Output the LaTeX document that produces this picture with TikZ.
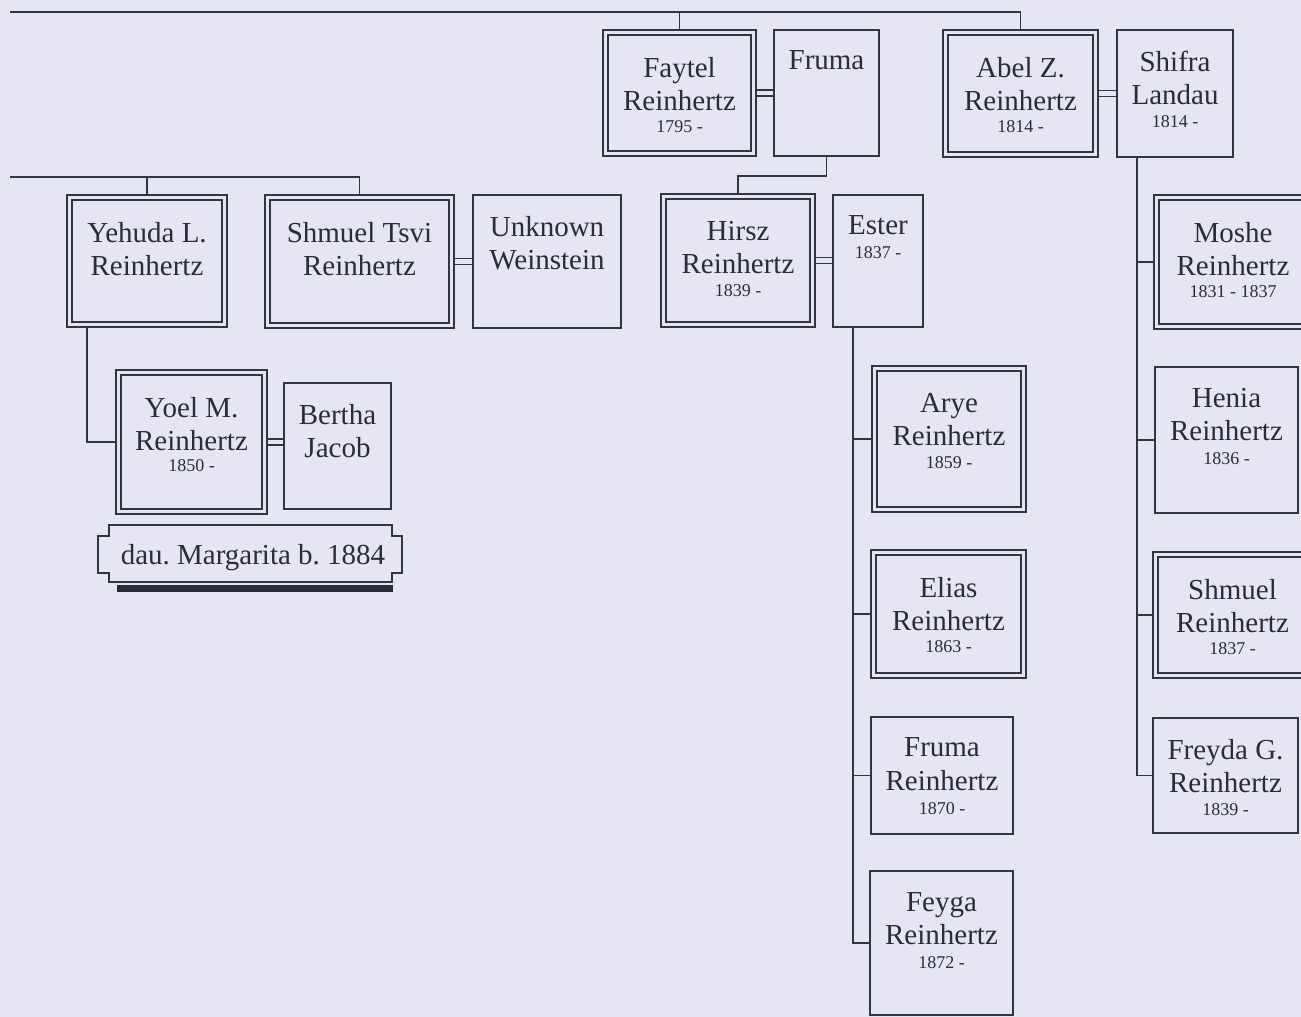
\documentclass[tikz,border=0pt]{standalone}
\usepackage{fontspec}
\setmainfont{Liberation Serif}
\usetikzlibrary{calc}
\pgfdeclarelayer{bg}
\pgfdeclarelayer{lines}
\pgfsetlayers{bg,lines,main}
\definecolor{bgc}{RGB}{229,229,245}
\definecolor{lc}{RGB}{50,54,68}
\definecolor{txt}{RGB}{42,45,56}
\tikzset{
  sbox/.style={draw=lc, line width=1.6pt, fill=bgc, rectangle, inner sep=0pt, outer sep=0pt},
  dbox/.style={draw=lc, line width=1.3pt, double=bgc, double distance=3.7pt, fill=bgc, rectangle, inner sep=0pt, outer sep=0pt},
  conn/.style={draw=lc, line width=1.6pt},
  marr/.style={draw=lc, line width=1.4pt, double=bgc, double distance=4.4pt},
  nametext/.style={font=\fontsize{29}{33.5}\selectfont\frenchspacing, align=center, inner sep=0pt, text=txt},
  datetext/.style={font=\fontsize{18}{20}\selectfont, inner sep=0pt, text=txt},
}
% #1 id, #2 x1, #3 y1, #4 x2, #5 y2, #6 names, #7 date, #8 date baseline offset
\newcommand\sperson[8]{%
  \node[sbox, minimum width={#4-#2}, minimum height={#5-#3}] (#1) at ({(#2+#4)/2},{(#3+#5)/2}) {};
  \node[nametext, anchor=north] (#1-n) at ({(#2+#4)/2},{#3+20.8}) {#6};
  \node[datetext, anchor=base] (#1-d) at ({(#2+#4)/2},{#3+#8}) {#7};
}
\newcommand\dperson[8]{%
  \node[dbox, minimum width={#4-#2-5}, minimum height={#5-#3-5}] (#1) at ({(#2+#4)/2},{(#3+#5)/2}) {};
  \node[nametext, anchor=north] (#1-n) at ({(#2+#4)/2},{#3+26.8}) {#6};
  \node[datetext, anchor=base] (#1-d) at ({(#2+#4)/2},{#3+#8}) {#7};
}
\begin{document}
\begin{tikzpicture}[x=1pt,y=-1pt]
\useasboundingbox (0,0) rectangle (1301,1017);
\begin{pgfonlayer}{bg}
  \fill[bgc] (0,0) rectangle (1301,1017);
\end{pgfonlayer}
\clip (0,0) rectangle (1301,1017);

% people
\dperson{faytel}{603}{30}{756}{156}{Faytel\\Reinhertz}{1795 -}{102.5}
\sperson{fruma}{774}{30}{879}{156}{Fruma}{}{97}
\dperson{abel}{943}{30}{1098}{157}{Abel Z.\\Reinhertz}{1814 -}{102.5}
\sperson{shifra}{1117}{30}{1233}{157}{Shifra\\Landau}{1814 -}{97}
\dperson{yehuda}{67}{195}{227}{327}{Yehuda L.\\Reinhertz}{}{102.5}
\dperson{shmuel}{265}{195}{454}{328}{Shmuel Tsvi\\Reinhertz}{}{102.5}
\sperson{unknown}{473}{195}{621}{328}{Unknown\\Weinstein}{}{97}
\dperson{hirsz}{661}{194}{815}{327}{Hirsz\\Reinhertz}{1839 -}{102.5}
\sperson{ester}{833}{195}{923}{327}{Ester}{1837 -}{63}
\dperson{yoel}{116}{370}{267}{514}{Yoel M.\\Reinhertz}{1850 -}{101.5}
\sperson{bertha}{284}{383}{391}{509}{Bertha\\Jacob}{}{97}
\dperson{arye}{872}{366}{1026}{512}{Arye\\Reinhertz}{1859 -}{102.5}
\dperson{elias}{871}{550}{1026}{678}{Elias\\Reinhertz}{1863 -}{102.5}
\sperson{frumar}{871}{717}{1013}{834}{Fruma\\Reinhertz}{1870 -}{97}
\sperson{feyga}{870}{871}{1013}{1015}{Feyga\\Reinhertz}{1872 -}{97}
\dperson{moshe}{1154}{195}{1312}{329}{Moshe\\Reinhertz}{1831 - 1837}{102.5}
\sperson{henia}{1155}{367}{1298}{513}{Henia\\Reinhertz}{1836 -}{97}
\dperson{shmuelr}{1153}{552}{1312}{678}{Shmuel\\Reinhertz}{1837 -}{102.5}
\sperson{freyda}{1153}{718}{1298}{833}{Freyda G.\\Reinhertz}{1839 -}{97}

% banner
\fill[lc!80!black] (117,585) rectangle (393,592);
\draw[conn, fill=bgc] (109,525) -- (109,536) -- (98,536) -- (98,573) -- (109,573) -- (109,582)
  -- (392,582) -- (392,573) -- (402,573) -- (402,536) -- (392,536) -- (392,525) -- cycle;
\node[nametext, anchor=base] (banner) at (253,564) {dau. Margarita b. 1884};

% connectors
\begin{pgfonlayer}{lines}
  \coordinate (topL) at (10,12);
  \draw[conn] (topL) -| (abel.north);
  \draw[conn] (faytel.north |- topL) -- (faytel.north);
  \draw[conn] (fruma.south) -- (fruma.south |- 0,176) -| (hirsz.north);
  \coordinate (genL) at (10,177);
  \draw[conn] (genL) -| (shmuel.north);
  \draw[conn] (yehuda.north |- genL) -- (yehuda.north);
  \draw[conn] ([xshift=17.5]yehuda.south west) |- (yoel.west);
  % Ester's children
  \coordinate (ed) at ([xshift=20]ester.south west);
  \draw[conn] (ed) |- (feyga.west);
  \draw[conn] (ed |- arye.west) -- (arye.west);
  \draw[conn] (ed |- elias.west) -- (elias.west);
  \draw[conn] (ed |- frumar.west) -- (frumar.west);
  % Shifra's children
  \coordinate (sd) at ([xshift=20]shifra.south west);
  \draw[conn] (sd) |- (freyda.west);
  \draw[conn] (sd |- moshe.west) -- (moshe.west);
  \draw[conn] (sd |- henia.west) -- (henia.west);
  \draw[conn] (sd |- shmuelr.west) -- (shmuelr.west);
  % marriages
  \draw[marr] (faytel.east) -- (faytel.east -| fruma.west);
  \draw[marr] (abel.east) -- (abel.east -| shifra.west);
  \draw[marr] (shmuel.east) -- (shmuel.east -| unknown.west);
  \draw[marr] (hirsz.east) -- (hirsz.east -| ester.west);
  \draw[marr] (yoel.east) -- (yoel.east -| bertha.west);
\end{pgfonlayer}
\end{tikzpicture}
\end{document}
